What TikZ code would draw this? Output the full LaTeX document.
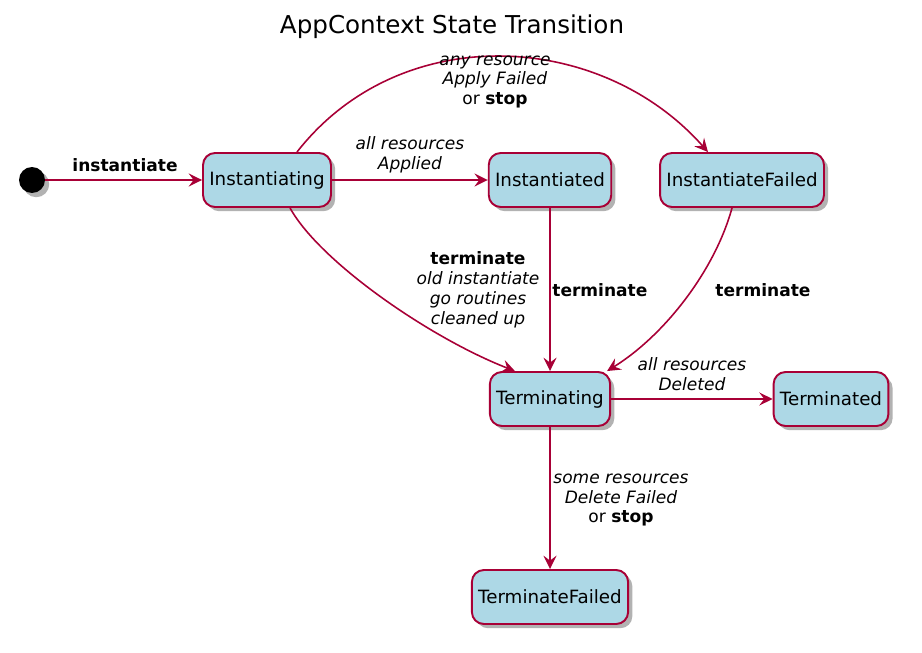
\documentclass[tikz,border=0pt]{standalone}
\usepackage{fontspec}
\setmainfont{DejaVu Sans}
\usetikzlibrary{arrows.meta}
\usetikzlibrary{positioning}
\usetikzlibrary{shadows}
\definecolor{mcrimson}{HTML}{A80036}
\definecolor{mblue}{HTML}{ADD8E6}

\tikzset{
  statebox/.style={draw=mcrimson, fill=mblue, line width=1.1pt, rounded corners=6.8pt,
    minimum height=1.08cm, inner xsep=3.6pt, font=\fontsize{10.4}{12}\selectfont,
    drop shadow={shadow xshift=2.4pt, shadow yshift=-2.4pt, opacity=0.3, fill=black}},
  trans/.style={draw=mcrimson, line width=0.9pt, -{Stealth[length=7.6pt, width=7.4pt, inset=2.8pt]}},
  lbl/.style={align=center, inner sep=0pt, font=\fontsize{9.7}{11.3}\selectfont}
}

\begin{document}
\begin{tikzpicture}[x=0.02cm, y=-0.02cm]
    \useasboundingbox (0, 0) rectangle (922, 652);

    \node [font=\fontsize{14}{16}\selectfont] (title) at (452, 27) {AppContext State Transition};

    \node [circle, fill=black, minimum size=0.52cm, inner sep=0pt,
      drop shadow={shadow xshift=2.4pt, shadow yshift=-2.4pt, opacity=0.3, fill=black}] (start) at (32, 180) {};

    \node [statebox] (instantiating) at (267, 180) {Instantiating};
    \node [statebox] (instantiated) at (550, 180) {Instantiated};
    \node [statebox] (instfailed) at (742, 180) {InstantiateFailed};
    \node [statebox] (terminating) at (550, 399) {Terminating};
    \node [statebox] (terminated) at (831, 399) {Terminated};
    \node [statebox] (termfailed) at (550, 597) {TerminateFailed};

    \draw [trans] (start) -- (instantiating);
    \node [lbl] (l1) at (125, 165) {\textbf{instantiate}};

    \draw [trans] (instantiating) -- (instantiated);
    \node [lbl] (l2) at (410, 155) {\textit{all resources}\\\textit{Applied}};

    \draw [trans] ([xshift=0.6cm]instantiating.north) .. controls (400, 20) and (600, 30) .. ([xshift=-0.68cm]instfailed.north);
    \node [lbl] (l3) at (495, 82) {\textit{any resource}\\\textit{Apply Failed}\\or \textbf{stop}};

    \draw [trans] ([xshift=0.46cm]instantiating.south) .. controls (320, 262) and (430, 338) .. ([xshift=0.52cm]terminating.north west);
    \node [lbl] (l4) at (478, 290) {\textbf{terminate}\\\textit{old instantiate}\\\textit{go routines}\\\textit{cleaned up}};

    \draw [trans] (instantiated) -- (terminating);
    \node [lbl, anchor=west] (l5) at (552, 290) {\textbf{terminate}};

    \draw [trans] ([xshift=-0.2cm]instfailed.south) .. controls (715, 270) and (665, 335) .. ([xshift=-0.08cm]terminating.north east);
    \node [lbl] (l6) at (763, 290) {\textbf{terminate}};

    \draw [trans] (terminating) -- (terminated);
    \node [lbl] (l7) at (692, 374) {\textit{all resources}\\\textit{Deleted}};

    \draw [trans] (terminating) -- (termfailed);
    \node [lbl] (l8) at (621, 500) {\textit{some resources}\\\textit{Delete Failed}\\or \textbf{stop}};
\end{tikzpicture}
\end{document}
